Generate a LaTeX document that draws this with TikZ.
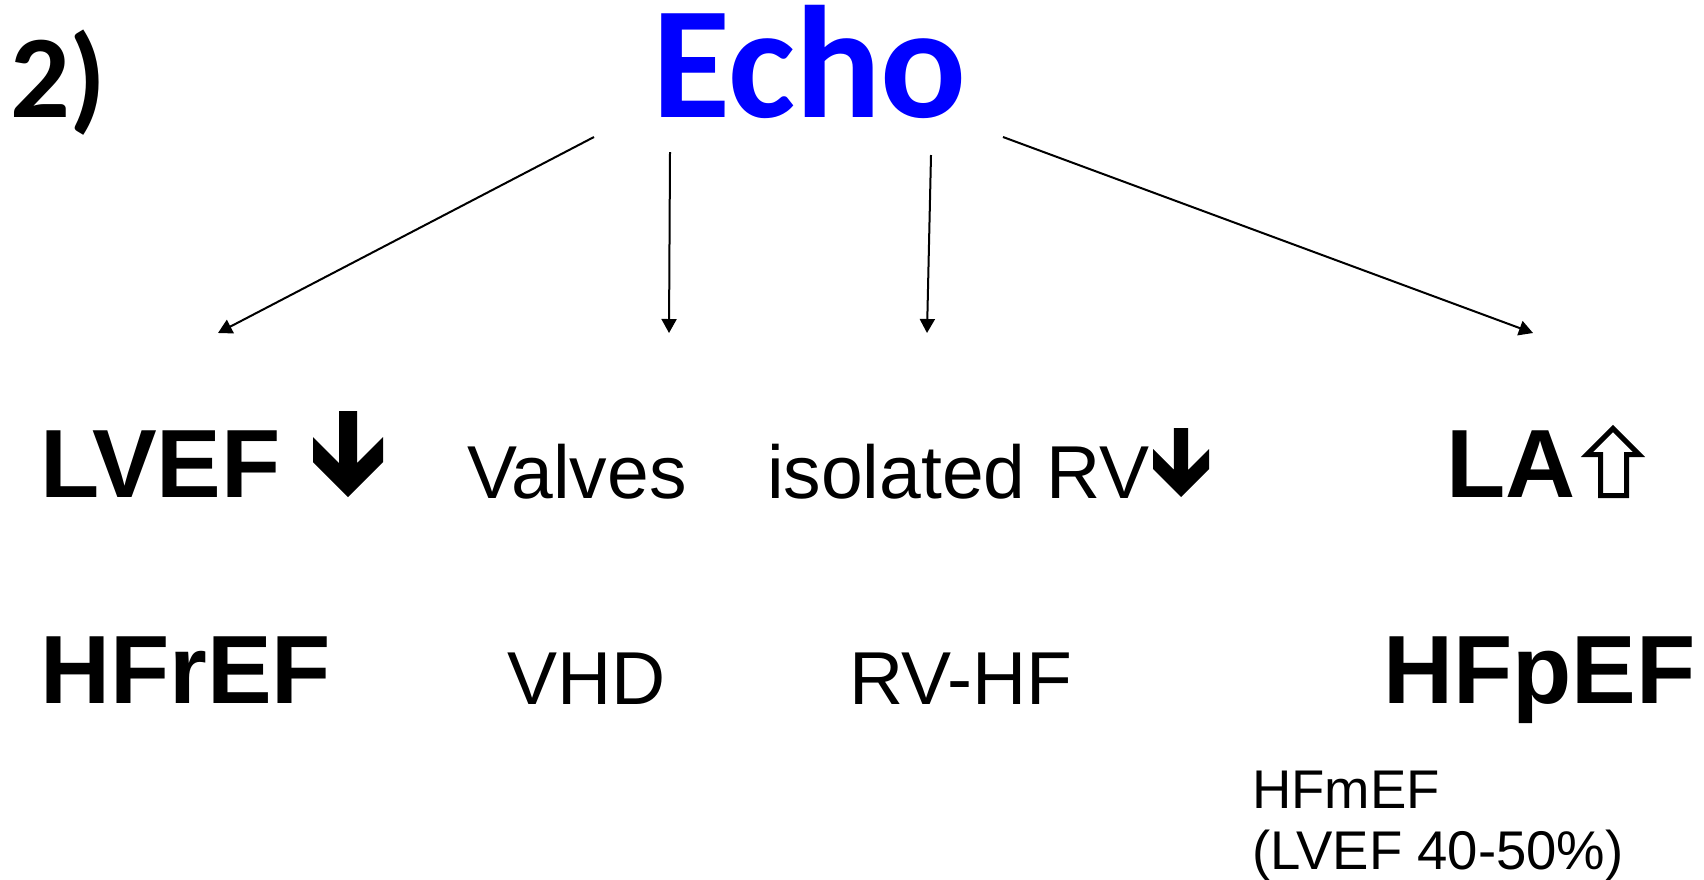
\documentclass[tikz,border=0pt]{standalone}
\usepackage{fontspec}
\setmainfont{Liberation Sans}
\newfontfamily\calibrifont{Carlito}
\usetikzlibrary{arrows.meta}
\definecolor{echoblue}{RGB}{0,0,255}
\tikzset{
  lbl/.style={anchor=base west, inner sep=0pt, outer sep=0pt},
  big/.style={lbl, font=\bfseries\fontsize{97}{110}\selectfont},
  mid/.style={lbl, font=\fontsize{75}{85}\selectfont},
  conn/.style={line width=2pt, -{Triangle[length=14pt,width=15pt]}},
  darr/.pic={\fill (-9,-86)--(9,-86)--(9,-34)--(35,-60)--(35,-35)--(0,0)--(-35,-35)--(-35,-60)--(-9,-34)--cycle;}
}
\begin{document}
\begin{tikzpicture}[x=1pt,y=-1pt]
\useasboundingbox (0,0) rectangle (1704,879);
\node[lbl, font=\calibrifont\bfseries\fontsize{118}{128}\selectfont] (num) at (10,117) {2)};
\node[lbl, font=\calibrifont\bfseries\fontsize{160}{175}\selectfont, text=echoblue] (echo) at (652,117) {Echo};
% row 1
\node[big] (lvef) at (40,497) {LVEF};
\pic at (348,497) {darr};
\node[mid] (valves) at (467,498) {Valves};
\node[mid] (rv) at (767,498) {isolated RV};
\pic[scale=0.8] at (1181,497) {darr};
\node[big] (la) at (1446,497) {LA};
\draw[line width=5pt, line join=miter] (1587,454.5)--(1613,428.5)--(1639,454.5)--(1626.5,454.5)--(1626.5,495.5)--(1600.5,495.5)--(1600.5,454.5)--cycle;
% row 2
\node[big] (hfref) at (40,703) {HFrEF};
\node[mid] (vhd) at (507,704) {VHD};
\node[mid] (rvhf) at (849,704) {RV-HF};
\node[big] (hfpef) at (1383,703) {HFpEF};
\node[lbl, align=left, font=\fontsize{54.5}{61}\selectfont] (hfmef) at (1252,869) {HFmEF\\(LVEF 40-50\%)};
% connectors
\coordinate (s1) at (594,137); \coordinate (e1) at (218,333);
\coordinate (s2) at (670,152); \coordinate (e2) at (669,333);
\coordinate (s3) at (931,155); \coordinate (e3) at (927,333);
\coordinate (s4) at (1003,137); \coordinate (e4) at (1533,333);
\draw[conn] (s1) -- (e1);
\draw[conn] (s2) -- (e2);
\draw[conn] (s3) -- (e3);
\draw[conn] (s4) -- (e4);
\end{tikzpicture}
\end{document}
